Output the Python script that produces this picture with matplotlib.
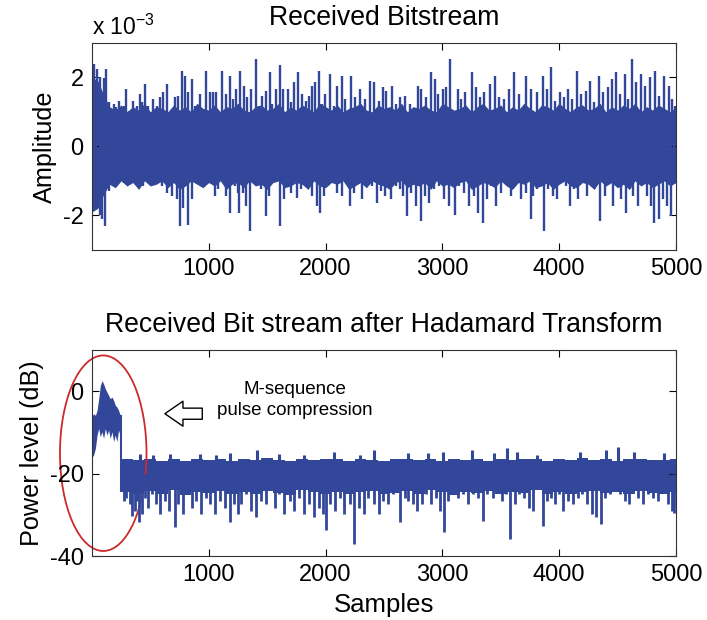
import numpy as np
import matplotlib
matplotlib.use('Agg')
import matplotlib.pyplot as plt
from matplotlib.patches import Ellipse

plt.rcParams['font.family'] = ['Liberation Sans', 'DejaVu Sans']
plt.rcParams['mathtext.fontset'] = 'custom'
plt.rcParams['mathtext.rm'] = 'Liberation Sans'
plt.rcParams['mathtext.it'] = 'Liberation Sans'
plt.rcParams['axes.unicode_minus'] = False

# ---------------- data : top panel (amplitude, units of 1e-3) ----------------
top_core_step = 50
top_core_hi = [2.0, 1.9, 1.5, 1.15, 1.05, 1.2, 1.0, 1.15, 1.05, 1.25, 1.0, 1.15, 1.1, 1.0, 1.2, 1.05, 1.15,
               1.0, 1.25, 1.1, 1.05, 1.2, 1.0, 1.15, 1.1, 1.25, 1.05, 1.0, 1.15, 1.2, 1.05, 1.1, 1.25, 1.0,
               1.15, 1.05, 1.2, 1.1, 1.0, 1.25, 1.15, 1.05, 1.2, 1.0, 1.1, 1.15, 1.25, 1.05, 1.0, 1.2, 1.1,
               1.15, 1.05, 1.25, 1.0, 1.15, 1.1, 1.2, 1.05, 1.0, 1.25, 1.15, 1.05, 1.1, 1.2, 1.0, 1.15, 1.25,
               1.05, 1.1, 1.2, 1.0, 1.15, 1.05, 1.25, 1.1, 1.0, 1.2, 1.15, 1.05, 1.25, 1.1, 1.0, 1.15, 1.2,
               1.05, 1.1, 1.25, 1.0, 1.15, 1.05, 1.2, 1.1, 1.25, 1.0, 1.15, 1.05, 1.2, 1.1, 1.0, 1.15]
top_core_lo = [-1.9, -1.8, -1.4, -1.1, -1.2, -1.0, -1.15, -1.05, -1.25, -1.0, -1.15, -1.1, -1.0, -1.2,
               -1.05, -1.25, -1.15, -1.0, -1.1, -1.2, -1.05, -1.15, -1.0, -1.25, -1.1, -1.05, -1.2, -1.0,
               -1.15, -1.1, -1.25, -1.05, -1.0, -1.2, -1.15, -1.05, -1.1, -1.25, -1.0, -1.15, -1.2, -1.05,
               -1.1, -1.0, -1.25, -1.15, -1.05, -1.2, -1.0, -1.1, -1.15, -1.25, -1.05, -1.0, -1.2, -1.1,
               -1.15, -1.05, -1.25, -1.0, -1.15, -1.1, -1.2, -1.05, -1.0, -1.25, -1.15, -1.05, -1.1, -1.2,
               -1.0, -1.15, -1.25, -1.05, -1.1, -1.0, -1.2, -1.15, -1.05, -1.25, -1.1, -1.0, -1.15, -1.2,
               -1.05, -1.1, -1.25, -1.0, -1.15, -1.05, -1.2, -1.1, -1.25, -1.0, -1.15, -1.05, -1.2, -1.1,
               -1.0, -1.15, -1.05]

top_up_x = [15, 44, 72, 100, 123, 149, 186, 208, 228, 271, 291, 319, 356, 384, 413, 433, 455, 484, 521, 555,
            583, 612, 646, 683, 711, 739, 773, 796, 824, 853, 881, 924, 981, 1009, 1037, 1060, 1117, 1151,
            1179, 1208, 1236,
            1270, 1304, 1332, 1366, 1403, 1432, 1460, 1488, 1522, 1545, 1573, 1608, 1636, 1679, 1701, 1730,
            1767, 1801, 1829, 1857, 1886, 1914, 1943, 1971, 1999, 2042, 2070, 2099, 2141, 2170, 2221, 2255,
            2297, 2340, 2377, 2417, 2454, 2490,
            2521, 2569, 2606, 2635, 2677, 2720, 2757, 2791, 2819, 2862, 2899, 2939, 2967, 3004, 3032, 3063,
            3132, 3160, 3197, 3251, 3288, 3325, 3359, 3410, 3450, 3486, 3529, 3572, 3614, 3657, 3714, 3756,
            3808, 3865, 3893, 3930, 3964, 4006, 4043, 4077, 4114, 4154, 4191, 4228, 4262, 4299, 4341, 4376,
            4418, 4455, 4489, 4523, 4560, 4594, 4625, 4659, 4702, 4739, 4779, 4821, 4858, 4901, 4938, 4966,
            4989]
top_up_y = [2.39, 2.24, 2.0, 1.97, 2.24, 1.27, 1.22, 1.13, 1.32, 1.17, 1.66, 1.03, 1.32, 1.17, 1.51, 1.27,
            1.80, 1.17, 1.37, 1.17, 1.42, 1.56, 1.80, 1.08, 1.42, 1.47, 2.19, 2.05, 1.56, 1.95, 1.17, 1.51,
            2.19, 1.56, 1.56, 1.56, 2.19, 1.51, 2.05, 1.37, 1.66,
            2.19, 1.76, 1.42, 1.66, 2.53, 1.17, 1.47, 1.61, 2.14, 1.22, 1.66, 2.36, 1.66, 1.66, 1.27, 1.85,
            2.14, 1.51, 1.32, 1.47, 1.76, 1.85, 2.19, 1.22, 1.51, 2.10, 1.17, 1.76, 2.05, 1.37, 2.05, 1.42,
            1.66, 1.37, 1.90, 1.85, 1.32, 1.71,
            1.61, 1.76, 1.22, 1.42, 1.47, 1.22, 0.98, 1.76, 1.66, 1.42, 2.14, 1.95, 1.51, 1.66, 1.71, 2.53,
            1.66, 1.37, 1.56, 2.14, 1.71, 1.42, 1.56, 1.80, 2.05, 1.42, 1.37, 1.66, 2.14, 1.51, 2.05, 1.66,
            1.56, 2.05, 1.66, 2.29, 1.32, 1.56, 1.42, 1.66, 1.37, 2.19, 1.51, 1.61, 1.90, 1.27, 2.05, 1.56,
            1.71, 1.95, 2.14, 1.51, 2.10, 1.37, 2.53, 1.85, 2.10, 1.76, 2.0, 2.19, 1.47, 2.05, 1.76, 1.37,
            1.17]

top_dn_x = [15, 38, 66, 86, 115, 143, 172, 200, 242, 271, 299, 328, 370, 413, 441, 484, 526, 555, 597, 640,
            683, 725, 753, 782, 824, 853, 895, 938, 966, 1009, 1052, 1080, 1108, 1151, 1179, 1222, 1250,
            1261, 1290, 1318, 1355, 1383, 1417, 1446, 1488, 1517, 1559, 1610, 1644, 1673, 1701, 1730, 1758,
            1786, 1815, 1849, 1886, 1928, 1957, 1991, 2028, 2056, 2099, 2141, 2184, 2212, 2241, 2275, 2312,
            2354, 2397, 2439, 2474, 2510,
            2564, 2606, 2635, 2663, 2700, 2734, 2777, 2819, 2853, 2890, 2933, 2975, 3018, 3061, 3109, 3146,
            3188, 3231, 3273, 3308, 3345, 3381, 3415, 3458, 3501, 3552, 3586, 3628, 3671, 3714, 3756,
            3774, 3808, 3836, 3870, 3907, 3944, 3978, 4021, 4058, 4092, 4126, 4163, 4200, 4239, 4276, 4313,
            4347, 4390, 4427, 4461, 4495, 4532, 4569, 4603, 4637, 4674, 4716, 4750, 4787, 4816, 4853, 4887,
            4921, 4958, 4986]
top_dn_y = [-1.54, -1.83, -1.98, -2.12, -2.32, -1.30, -1.01, -0.72, -0.86, -1.06, -0.77, -0.96, -0.91, -0.77,
            -1.15, -0.96, -0.52, -1.06, -1.15, -1.35, -1.45, -1.54, -2.32, -1.79, -2.27, -1.54, -1.06, -0.91,
            -0.52, -1.06, -1.45, -1.25, -0.96, -1.45, -1.93, -1.15, -1.35,
            -1.93, -1.35, -1.74, -2.46, -0.96, -0.86, -1.25, -2.03, -1.45, -0.96, -2.32, -1.54, -0.96, -1.35,
            -0.96, -1.49, -1.25, -0.77, -1.06, -1.45, -1.74, -1.93, -1.45, -0.96, -0.57, -1.35, -1.45, -0.96,
            -1.74, -1.35, -0.96, -1.54, -0.96, -1.15, -1.64, -1.30, -1.45,
            -1.54, -1.15, -1.25, -1.45, -2.03, -1.35, -1.74, -2.17, -1.45, -1.64, -1.25, -1.15, -1.54, -1.74,
            -1.98, -1.15, -1.35, -1.74, -1.45, -1.93, -2.22, -1.54, -1.15, -1.74, -1.35, -0.48, -1.45, -1.06,
            -1.54, -1.35, -2.12,
            -1.45, -1.25, -0.96, -2.46, -1.25, -1.45, -1.54, -0.77, -1.15, -1.74, -1.25, -1.54, -0.96, -1.45,
            -0.86, -1.15, -2.17, -1.45, -0.96, -1.74, -1.15, -1.54, -1.93, -1.25, -1.45, -1.74, -0.96, -1.45,
            -1.74, -2.22, -2.12, -1.54, -1.74, -2.03, -0.86]

# ---------------- data : bottom panel (power level, dB) ----------------
pulse_x = [1, 15, 30, 44, 58, 72, 86, 100, 115, 129, 143, 157, 172, 186, 200, 214, 228, 242, 248]
pulse_hi = [-6.0, -5.4, -5.8, -4.6, -1.8, 1.4, 2.65, 1.85, 0.65, -0.15, -0.95, -1.75, -1.35, -2.15, -3.35,
            -3.75, -4.55, -5.75, -5.8]
pulse_lo = [-16.0, -15.4, -13.8, -10.6, -9.0, -11.0, -9.8, -11.4, -9.0, -10.6, -9.4, -11.4, -9.8, -12.2,
            -10.6, -12.2, -9.4, -10.6, -10.6]

bot_core_start = 250
bot_core_step = 100
bot_core_hi = [-16.4, -16.7, -16.3, -16.8, -16.5, -16.9, -16.4, -16.6, -16.3, -16.8, -16.5, -16.7, -16.2,
               -16.6, -16.9, -16.4, -16.7, -16.3, -16.5, -16.8, -16.4, -16.6, -16.9, -16.3, -16.5, -16.7,
               -16.4, -16.8, -16.3, -16.6, -16.5, -16.9, -16.4, -16.7, -16.3, -16.5, -16.8, -16.4, -16.6,
               -16.2, -16.7, -16.4, -16.8, -16.5, -16.3, -16.6, -16.7, -16.4]
bot_core_lo = [-24.5, -25.0, -24.2, -24.8, -24.0, -25.2, -24.4, -24.7, -24.1, -25.0, -24.3, -24.9, -24.2,
               -24.6, -25.1, -24.0, -24.5, -24.8, -24.3, -25.0, -24.4, -24.1, -24.9, -24.6, -24.2, -24.8,
               -24.0, -24.5, -25.1, -24.3, -24.7, -24.2, -24.9, -24.4, -24.6, -24.0, -24.8, -24.3, -25.0,
               -24.5, -24.1, -24.7, -24.4, -24.9, -24.2, -24.6, -24.8, -24.3]

bot_up_x = [413, 526, 668, 924, 1066, 1179, 1417, 1602, 1815, 2070, 2297, 2411, 2706, 2876, 3004, 3251,
            3444, 3557, 3643, 3808, 4177, 4404, 4503, 4645, 4901]
bot_up_y = [-15.2, -15.5, -15.2, -15.2, -15.4, -15.0, -14.2, -15.2, -15.4, -14.6, -15.4, -14.2, -15.0,
            -15.0, -14.7, -14.2, -15.0, -13.8, -14.6, -15.4, -14.7, -14.2, -13.6, -14.7, -15.0]

bot_dn_x = [271, 294, 322, 342, 365, 384, 407, 427, 455, 484, 512, 549, 583, 626, 663, 711, 739, 782, 816,
            853, 895, 938, 975, 1009, 1052, 1094, 1137, 1179, 1213, 1250,
            1275, 1318, 1361, 1403, 1446, 1488, 1531, 1565, 1602, 1644, 1696, 1730, 1772, 1815, 1857, 1900,
            1943, 1979, 2008, 2042, 2085, 2127, 2161, 2207, 2246, 2283, 2326, 2368, 2411, 2454, 2496,
            2535, 2578, 2635, 2677, 2706, 2748, 2785, 2825, 2862, 2904, 2947, 2984, 3018, 3052, 3098, 3137,
            3174, 3217, 3259, 3302, 3345, 3387, 3430, 3472, 3515, 3543, 3580, 3620, 3657, 3699, 3742,
            3779, 3813, 3859, 3893, 3927, 3964, 4001, 4035, 4077, 4120, 4163, 4200, 4239, 4285, 4319, 4356,
            4390, 4432, 4475, 4518, 4560, 4597, 4637, 4674, 4716, 4759, 4801, 4844, 4887, 4929, 4966, 4986]
bot_dn_y = [-26.6, -25.8, -27.4, -30.2, -29.0, -26.6, -31.8, -29.8, -25.8, -28.2, -25.0, -27.4, -29.8, -26.6,
            -29.0, -33.0, -27.4, -29.8, -25.0, -28.2, -26.6, -29.8, -25.8, -27.4, -29.8, -26.6, -28.2, -31.8,
            -27.4, -29.8,
            -27.4, -25.0, -29.0, -30.6, -26.6, -27.4, -23.4, -28.2, -25.0, -29.8, -26.6, -29.0, -25.8, -29.8,
            -27.4, -30.6, -28.2, -29.8, -33.6, -27.4, -29.0, -25.8, -29.8, -27.4, -37.0, -28.2, -29.8, -25.8,
            -27.4, -29.8, -26.6,
            -27.4, -25.0, -31.8, -25.8, -26.6, -27.4, -29.0, -27.4, -25.0, -27.4, -25.8, -29.0, -34.2, -26.6,
            -23.4, -25.8, -25.0, -27.4, -25.0, -25.8, -31.4, -25.0, -25.8, -24.2, -26.6, -25.0, -35.8, -27.4,
            -25.0, -25.8, -28.2,
            -29.0, -23.4, -32.6, -26.6, -25.8, -27.4, -25.0, -29.0, -26.6, -27.4, -25.8, -25.0, -27.4, -29.8,
            -30.6, -32.2, -25.8, -25.0, -23.4, -25.0, -26.6, -27.4, -24.2, -25.8, -27.4, -25.0, -25.8, -26.6,
            -21.8, -27.4, -29.0, -29.4]

x_ticks = [1000, 2000, 3000, 4000, 5000]
top_yticks = [-2, 0, 2]
bot_yticks = [-40, -20, 0]

LINE = '#33479a'
RED = '#cc2a2a'
EDGE = '#333333'

fig = plt.figure(figsize=(7.07, 6.2), dpi=100)
ax1 = fig.add_axes([0.130, 0.597, 0.826, 0.334])
ax2 = fig.add_axes([0.130, 0.103, 0.826, 0.332])


def style(ax):
    ax.tick_params(direction='in', top=True, right=True, length=5, width=0.8,
                   labelsize=17, pad=6, colors='black')
    for s in ax.spines.values():
        s.set_color(EDGE)
        s.set_linewidth(0.8)


# ---- top panel ----
cx = np.arange(len(top_core_hi)) * top_core_step
ax1.fill_between(cx, top_core_lo, top_core_hi, color=LINE, lw=0)
ax1.vlines(top_up_x, 0, top_up_y, color=LINE, lw=1.7)
ax1.vlines(top_dn_x, 0, top_dn_y, color=LINE, lw=1.7)
ax1.set_xlim(0, 5000)
ax1.set_ylim(-3, 3)
ax1.set_xticks(x_ticks)
ax1.set_yticks(top_yticks)
ax1.set_ylabel('Amplitude', fontsize=18.2)
ax1.set_title('Received Bitstream', fontsize=19.2, pad=13)
style(ax1)
fig.text(0.130, (620 - 35) / 620, r'x 10$^{-3}$', fontsize=16.5, va='baseline', ha='left')

# ---- bottom panel ----
ax2.fill_between(pulse_x, pulse_lo, pulse_hi, color=LINE, lw=0)
bx = bot_core_start + np.arange(len(bot_core_hi) + 1) * bot_core_step
bx[-1] = 5000
bhi = list(bot_core_hi) + [bot_core_hi[-1]]
blo = list(bot_core_lo) + [bot_core_lo[-1]]
ax2.fill_between(bx, blo, bhi, step='post', color=LINE, lw=0)
ax2.vlines([pulse_x[-1]], bot_core_lo[0], pulse_hi[-1], color=LINE, lw=1.5)
ax2.vlines(bot_up_x, -20, bot_up_y, color=LINE, lw=2.2)
ax2.vlines(bot_dn_x, -20, bot_dn_y, color=LINE, lw=2.0)
ax2.set_xlim(0, 5000)
ax2.set_ylim(-40, 10)
ax2.set_xticks(x_ticks)
ax2.set_yticks(bot_yticks)
ax2.set_ylabel('Power level (dB)', fontsize=18.2)
ax2.set_xlabel('Samples', fontsize=18.5, labelpad=5)
ax2.set_title('Received Bit stream after Hadamard Transform', fontsize=19.2, pad=13)
style(ax2)

ell = Ellipse((97, -15.0), width=741, height=47.5, fill=False, ec=RED, lw=1.3, clip_on=False)
ax2.add_patch(ell)
ax2.annotate('', xy=(625, -5.4), xytext=(945, -5.4),
             arrowprops=dict(arrowstyle='simple,head_length=1.3,head_width=1.8,tail_width=0.8',
                             fc='white', ec='black', lw=1.0, mutation_scale=10,
                             shrinkA=0, shrinkB=0))
ax2.text(1741, -2.1, 'M-sequence\npulse compression', ha='center', va='center',
         fontsize=13.5, linespacing=1.3)

fig.savefig('out.png', dpi=100)
